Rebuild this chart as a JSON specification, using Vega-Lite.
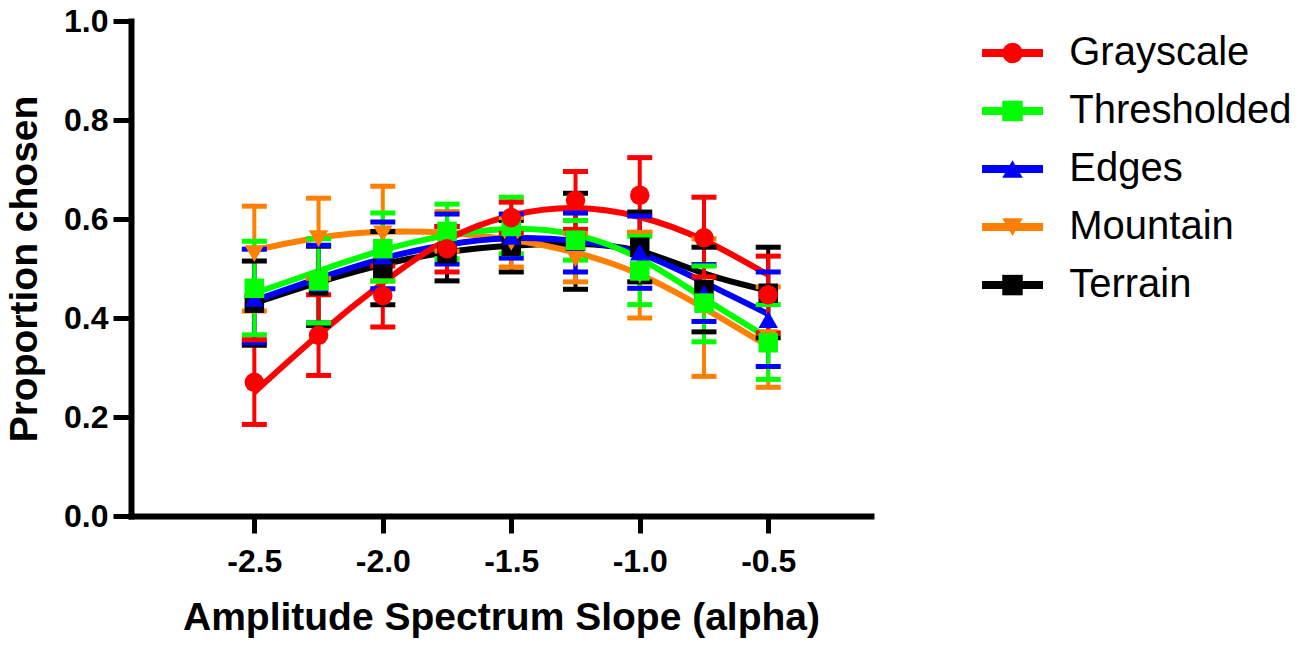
{
  "$schema": "https://vega.github.io/schema/vega-lite/v6.json",
  "background": "white",
  "padding": 5,
  "datasets": {
    "points": [
      {"series": "Terrain", "alpha": -2.5, "mean": 0.43, "lower": 0.345, "upper": 0.515},
      {"series": "Terrain", "alpha": -2.25, "mean": 0.465, "lower": 0.385, "upper": 0.545},
      {"series": "Terrain", "alpha": -2.0, "mean": 0.5, "lower": 0.427, "upper": 0.575},
      {"series": "Terrain", "alpha": -1.75, "mean": 0.53, "lower": 0.475, "upper": 0.585},
      {"series": "Terrain", "alpha": -1.5, "mean": 0.545, "lower": 0.493, "upper": 0.597},
      {"series": "Terrain", "alpha": -1.25, "mean": 0.555, "lower": 0.458, "upper": 0.652},
      {"series": "Terrain", "alpha": -1.0, "mean": 0.543, "lower": 0.473, "upper": 0.614},
      {"series": "Terrain", "alpha": -0.75, "mean": 0.457, "lower": 0.372, "upper": 0.543},
      {"series": "Terrain", "alpha": -0.5, "mean": 0.45, "lower": 0.36, "upper": 0.543},
      {"series": "Mountain", "alpha": -2.5, "mean": 0.53, "lower": 0.414, "upper": 0.626},
      {"series": "Mountain", "alpha": -2.25, "mean": 0.56, "lower": 0.48, "upper": 0.642},
      {"series": "Mountain", "alpha": -2.0, "mean": 0.57, "lower": 0.475, "upper": 0.666},
      {"series": "Mountain", "alpha": -1.75, "mean": 0.575, "lower": 0.535, "upper": 0.615},
      {"series": "Mountain", "alpha": -1.5, "mean": 0.553, "lower": 0.503, "upper": 0.603},
      {"series": "Mountain", "alpha": -1.25, "mean": 0.52, "lower": 0.473, "upper": 0.571},
      {"series": "Mountain", "alpha": -1.0, "mean": 0.487, "lower": 0.4, "upper": 0.573},
      {"series": "Mountain", "alpha": -0.75, "mean": 0.42, "lower": 0.282, "upper": 0.56},
      {"series": "Mountain", "alpha": -0.5, "mean": 0.36, "lower": 0.26, "upper": 0.463},
      {"series": "Edges", "alpha": -2.5, "mean": 0.44, "lower": 0.35, "upper": 0.539},
      {"series": "Edges", "alpha": -2.25, "mean": 0.47, "lower": 0.39, "upper": 0.547},
      {"series": "Edges", "alpha": -2.0, "mean": 0.525, "lower": 0.459, "upper": 0.594},
      {"series": "Edges", "alpha": -1.75, "mean": 0.56, "lower": 0.509, "upper": 0.61},
      {"series": "Edges", "alpha": -1.5, "mean": 0.565, "lower": 0.521, "upper": 0.61},
      {"series": "Edges", "alpha": -1.25, "mean": 0.553, "lower": 0.493, "upper": 0.612},
      {"series": "Edges", "alpha": -1.0, "mean": 0.533, "lower": 0.46, "upper": 0.606},
      {"series": "Edges", "alpha": -0.75, "mean": 0.45, "lower": 0.393, "upper": 0.508},
      {"series": "Edges", "alpha": -0.5, "mean": 0.397, "lower": 0.302, "upper": 0.493},
      {"series": "Thresholded", "alpha": -2.5, "mean": 0.46, "lower": 0.366, "upper": 0.555},
      {"series": "Thresholded", "alpha": -2.25, "mean": 0.475, "lower": 0.39, "upper": 0.56},
      {"series": "Thresholded", "alpha": -2.0, "mean": 0.54, "lower": 0.475, "upper": 0.612},
      {"series": "Thresholded", "alpha": -1.75, "mean": 0.575, "lower": 0.52, "upper": 0.63},
      {"series": "Thresholded", "alpha": -1.5, "mean": 0.585, "lower": 0.53, "upper": 0.644},
      {"series": "Thresholded", "alpha": -1.25, "mean": 0.557, "lower": 0.517, "upper": 0.597},
      {"series": "Thresholded", "alpha": -1.0, "mean": 0.495, "lower": 0.427, "upper": 0.565},
      {"series": "Thresholded", "alpha": -0.75, "mean": 0.43, "lower": 0.352, "upper": 0.505},
      {"series": "Thresholded", "alpha": -0.5, "mean": 0.35, "lower": 0.276, "upper": 0.427},
      {"series": "Grayscale", "alpha": -2.5, "mean": 0.27, "lower": 0.185, "upper": 0.356},
      {"series": "Grayscale", "alpha": -2.25, "mean": 0.365, "lower": 0.284, "upper": 0.447},
      {"series": "Grayscale", "alpha": -2.0, "mean": 0.445, "lower": 0.382, "upper": 0.505},
      {"series": "Grayscale", "alpha": -1.75, "mean": 0.54, "lower": 0.493, "upper": 0.585},
      {"series": "Grayscale", "alpha": -1.5, "mean": 0.603, "lower": 0.571, "upper": 0.634},
      {"series": "Grayscale", "alpha": -1.25, "mean": 0.638, "lower": 0.579, "upper": 0.696},
      {"series": "Grayscale", "alpha": -1.0, "mean": 0.648, "lower": 0.573, "upper": 0.724},
      {"series": "Grayscale", "alpha": -0.75, "mean": 0.562, "lower": 0.483, "upper": 0.644},
      {"series": "Grayscale", "alpha": -0.5, "mean": 0.447, "lower": 0.37, "upper": 0.525}
    ],
    "curves": [
      {"series": "Terrain", "alpha": -2.5, "fit": 0.43},
      {"series": "Terrain", "alpha": -2.25, "fit": 0.472},
      {"series": "Terrain", "alpha": -2.0, "fit": 0.508},
      {"series": "Terrain", "alpha": -1.75, "fit": 0.533},
      {"series": "Terrain", "alpha": -1.5, "fit": 0.546},
      {"series": "Terrain", "alpha": -1.25, "fit": 0.55},
      {"series": "Terrain", "alpha": -1.0, "fit": 0.535},
      {"series": "Terrain", "alpha": -0.75, "fit": 0.49},
      {"series": "Terrain", "alpha": -0.5, "fit": 0.455},
      {"series": "Mountain", "alpha": -2.5, "fit": 0.537},
      {"series": "Mountain", "alpha": -2.25, "fit": 0.562},
      {"series": "Mountain", "alpha": -2.0, "fit": 0.574},
      {"series": "Mountain", "alpha": -1.75, "fit": 0.572},
      {"series": "Mountain", "alpha": -1.5, "fit": 0.558},
      {"series": "Mountain", "alpha": -1.25, "fit": 0.532},
      {"series": "Mountain", "alpha": -1.0, "fit": 0.488},
      {"series": "Mountain", "alpha": -0.75, "fit": 0.42},
      {"series": "Mountain", "alpha": -0.5, "fit": 0.343},
      {"series": "Edges", "alpha": -2.5, "fit": 0.435},
      {"series": "Edges", "alpha": -2.25, "fit": 0.48},
      {"series": "Edges", "alpha": -2.0, "fit": 0.52},
      {"series": "Edges", "alpha": -1.75, "fit": 0.548},
      {"series": "Edges", "alpha": -1.5, "fit": 0.561},
      {"series": "Edges", "alpha": -1.25, "fit": 0.556},
      {"series": "Edges", "alpha": -1.0, "fit": 0.53},
      {"series": "Edges", "alpha": -0.75, "fit": 0.472},
      {"series": "Edges", "alpha": -0.5, "fit": 0.408},
      {"series": "Thresholded", "alpha": -2.5, "fit": 0.45},
      {"series": "Thresholded", "alpha": -2.25, "fit": 0.495},
      {"series": "Thresholded", "alpha": -2.0, "fit": 0.537},
      {"series": "Thresholded", "alpha": -1.75, "fit": 0.567},
      {"series": "Thresholded", "alpha": -1.5, "fit": 0.58},
      {"series": "Thresholded", "alpha": -1.25, "fit": 0.568},
      {"series": "Thresholded", "alpha": -1.0, "fit": 0.52},
      {"series": "Thresholded", "alpha": -0.75, "fit": 0.44},
      {"series": "Thresholded", "alpha": -0.5, "fit": 0.36},
      {"series": "Grayscale", "alpha": -2.5, "fit": 0.25},
      {"series": "Grayscale", "alpha": -2.25, "fit": 0.366},
      {"series": "Grayscale", "alpha": -2.0, "fit": 0.471},
      {"series": "Grayscale", "alpha": -1.75, "fit": 0.558},
      {"series": "Grayscale", "alpha": -1.5, "fit": 0.607},
      {"series": "Grayscale", "alpha": -1.25, "fit": 0.622},
      {"series": "Grayscale", "alpha": -1.0, "fit": 0.604},
      {"series": "Grayscale", "alpha": -0.75, "fit": 0.557},
      {"series": "Grayscale", "alpha": -0.5, "fit": 0.487}
    ],
    "entries": [
      {"series": "Grayscale"},
      {"series": "Thresholded"},
      {"series": "Edges"},
      {"series": "Mountain"},
      {"series": "Terrain"}
    ]
  },
  "hconcat": [
    {
      "width": 740,
      "height": 495,
      "encoding": {
        "x": {
          "field": "alpha",
          "type": "quantitative",
          "scale": {"domain": [-2.98, -0.1], "nice": false, "zero": false},
          "axis": {
            "values": [-2.5, -2.0, -1.5, -1.0, -0.5],
            "format": ".1f",
            "labelExpr": "replace(datum.label, '\u2212', '-')",
            "tickSize": 17,
            "labelPadding": 13,
            "titlePadding": 21
          },
          "title": "Amplitude Spectrum Slope (alpha)"
        },
        "color": {
          "field": "series",
          "type": "nominal",
          "scale": {
            "domain": ["Grayscale", "Thresholded", "Edges", "Mountain", "Terrain"],
            "range": ["#ff0000", "#00ff00", "#0000ff", "#ff8000", "#000000"]
          },
          "legend": null
        }
      },
      "layer": [
        {
          "data": {"name": "curves"},
          "mark": {"type": "line", "strokeWidth": 6, "interpolate": "natural"},
          "encoding": {
            "y": {
              "field": "fit",
              "type": "quantitative",
              "scale": {"domain": [0, 1], "nice": false},
              "axis": {
                "values": [0, 0.2, 0.4, 0.6, 0.8, 1.0],
                "format": ".1f",
                "tickSize": 18,
                "labelPadding": 5,
                "titlePadding": 19
              },
              "title": "Proportion chosen"
            }
          }
        },
        {
          "data": {"name": "points"},
          "mark": {"type": "rule", "strokeWidth": 4},
          "encoding": {
            "y": {"field": "lower", "type": "quantitative"},
            "y2": {"field": "upper"}
          }
        },
        {
          "data": {"name": "points"},
          "mark": {"type": "tick", "orient": "horizontal", "size": 25, "thickness": 5, "opacity": 1},
          "encoding": {
            "y": {"field": "lower", "type": "quantitative"}
          }
        },
        {
          "data": {"name": "points"},
          "mark": {"type": "tick", "orient": "horizontal", "size": 25, "thickness": 5, "opacity": 1},
          "encoding": {
            "y": {"field": "upper", "type": "quantitative"}
          }
        },
        {
          "data": {"name": "points"},
          "mark": {"type": "point", "filled": true, "size": 380, "opacity": 1},
          "encoding": {
            "y": {"field": "mean", "type": "quantitative"},
            "shape": {
              "field": "series",
              "type": "nominal",
              "scale": {
                "domain": ["Grayscale", "Thresholded", "Edges", "Mountain", "Terrain"],
                "range": ["circle", "square", "triangle-up", "triangle-down", "square"]
              },
              "legend": null
            }
          }
        }
      ]
    },
    {
      "width": 305,
      "height": 296,
      "data": {"name": "entries"},
      "encoding": {
        "y": {
          "field": "series",
          "type": "nominal",
          "scale": {"type": "point", "padding": 0.55, "domain": ["Grayscale", "Thresholded", "Edges", "Mountain", "Terrain"]},
          "axis": null
        },
        "color": {"field": "series", "type": "nominal", "legend": null}
      },
      "layer": [
        {
          "mark": {"type": "rule", "strokeWidth": 8},
          "encoding": {
            "x": {"datum": 0, "type": "quantitative", "scale": {"domain": [0, 5], "nice": false}, "axis": null},
            "x2": {"datum": 1}
          }
        },
        {
          "mark": {"type": "point", "filled": true, "size": 420, "opacity": 1},
          "encoding": {
            "x": {"datum": 0.5, "type": "quantitative"},
            "shape": {"field": "series", "type": "nominal", "legend": null}
          }
        },
        {
          "mark": {"type": "text", "align": "left", "baseline": "middle", "fontSize": 40, "font": "Liberation Sans", "color": "black"},
          "encoding": {
            "x": {"datum": 1.43, "type": "quantitative"},
            "text": {"field": "series"},
            "color": {"value": "black"}
          }
        }
      ]
    }
  ],
  "spacing": 107,
  "resolve": {"scale": {"x": "independent", "y": "independent"}},
  "config": {
    "view": {"stroke": null},
    "axis": {
      "grid": false,
      "domainColor": "black",
      "domainWidth": 6,
      "domainCap": "square",
      "tickColor": "black",
      "tickWidth": 5,
      "labelFont": "Liberation Sans",
      "labelFontWeight": "bold",
      "labelFontSize": 32,
      "labelColor": "black",
      "titleFont": "Liberation Sans",
      "titleFontWeight": "bold",
      "titleFontSize": 39,
      "titleColor": "black"
    }
  }
}
